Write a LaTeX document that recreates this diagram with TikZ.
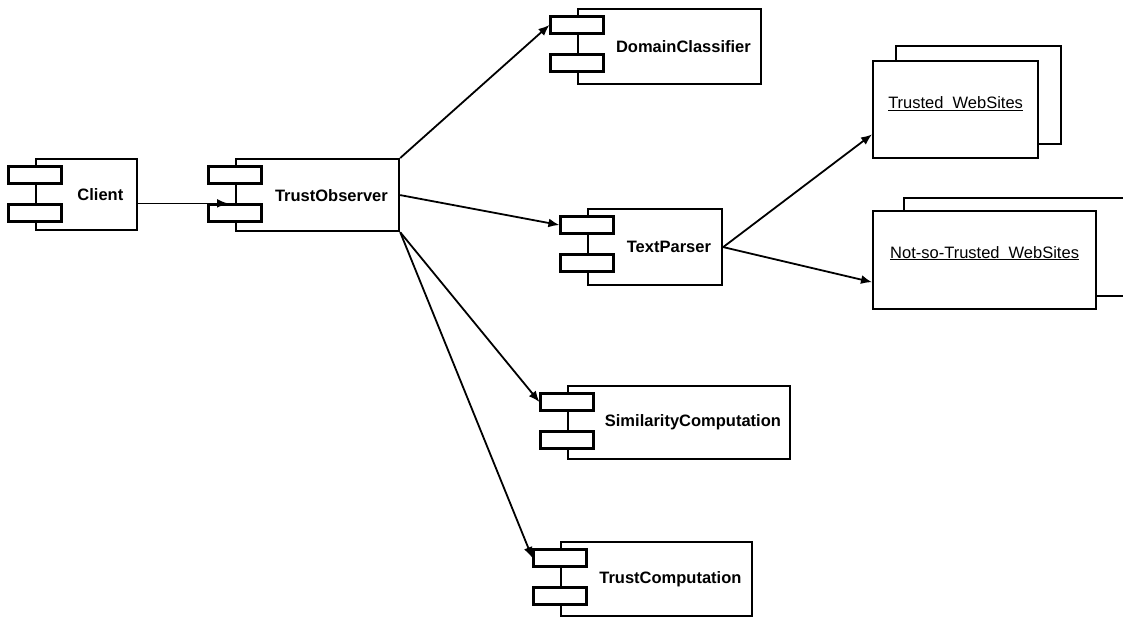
\documentclass[tikz,border=0pt]{standalone}
\usepackage{fontspec}
\setmainfont{Liberation Sans}
\usetikzlibrary{arrows.meta,calc,positioning}
\tikzset{compbox/.style={draw, line width=2.2pt, fill=white, anchor=north west, inner sep=0pt},
         port/.style={draw, line width=2.2pt, fill=white, minimum width=53pt, minimum height=17pt, inner sep=0pt},
         compname/.style={font=\fontsize{16.5}{20}\selectfont\bfseries, inner sep=0pt},
         sitebox/.style={draw, line width=2.2pt, fill=white, anchor=north west, inner sep=0pt},
         sitename/.style={font=\fontsize{16.5}{20}\selectfont, inner sep=0pt},
         dep/.style={line width=1.8pt, -{Latex[length=11pt,width=9pt]}}}

\begin{document}
\begin{tikzpicture}[x=1pt,y=-1pt]
\useasboundingbox (0,0) rectangle (1123,616);
\clip (0,0) rectangle (1123,616);

% components with their two ports
\foreach \n/\x/\y/\w/\h/\t in {client/35/158/101/71/Client,
                               obs/235/158/163/72/TrustObserver,
                               dom/577/8/183/75/DomainClassifier,
                               parser/587/208/134/76/TextParser,
                               sim/567/385/222/73/SimilarityComputation,
                               tcomp/560/541/191/74/TrustComputation}
         {
           \node[compbox, minimum width=\w pt, minimum height=\h pt] (\n) at (\x,\y) {};
           \node[port] (\n-a) at ([yshift=-17pt]\n.north west) {};
           \node[port] (\n-b) at ([yshift=-55pt]\n.north west) {};
           \node[compname] at ($(\n.east)!0.5!(\n.east -| \n-a.east)$) {\t};
         }

% stacked site objects
\node[sitebox, minimum width=165pt, minimum height=98pt] (trusted-bk) at (895,45) {};
\node[sitebox, minimum width=165pt, minimum height=97pt] (trusted) at (872,60) {};
\node[sitename] at ([yshift=6pt]trusted.center) {\underline{Trusted\hspace{0.55em}WebSites}};

\node[sitebox, minimum width=235pt, minimum height=98pt] (untrusted-bk) at (903,197) {};
\node[sitebox, minimum width=223pt, minimum height=98pt] (untrusted) at (872,210) {};
\node[sitename] at ([yshift=7pt]untrusted.center) {\underline{Not-so-Trusted\hspace{0.55em}WebSites}};

\draw[dep, shorten >=7pt] (client.east |- obs-b.north) -- (obs-b.north -| obs.west);
\draw[dep] (obs.north east) -- (dom-a.west);
\draw[dep] (obs.east) -- (parser-a.west);
\draw[dep] (obs.south east) -- (sim-a.west);
\draw[dep] (obs.south east) -- (tcomp-a.west);
\draw[dep] (parser.east) -- ($(trusted.north west)!0.75!(trusted.south west)$);
\draw[dep] (parser.east) -- ($(untrusted.north west)!0.72!(untrusted.south west)$);

\end{tikzpicture}
\end{document}
